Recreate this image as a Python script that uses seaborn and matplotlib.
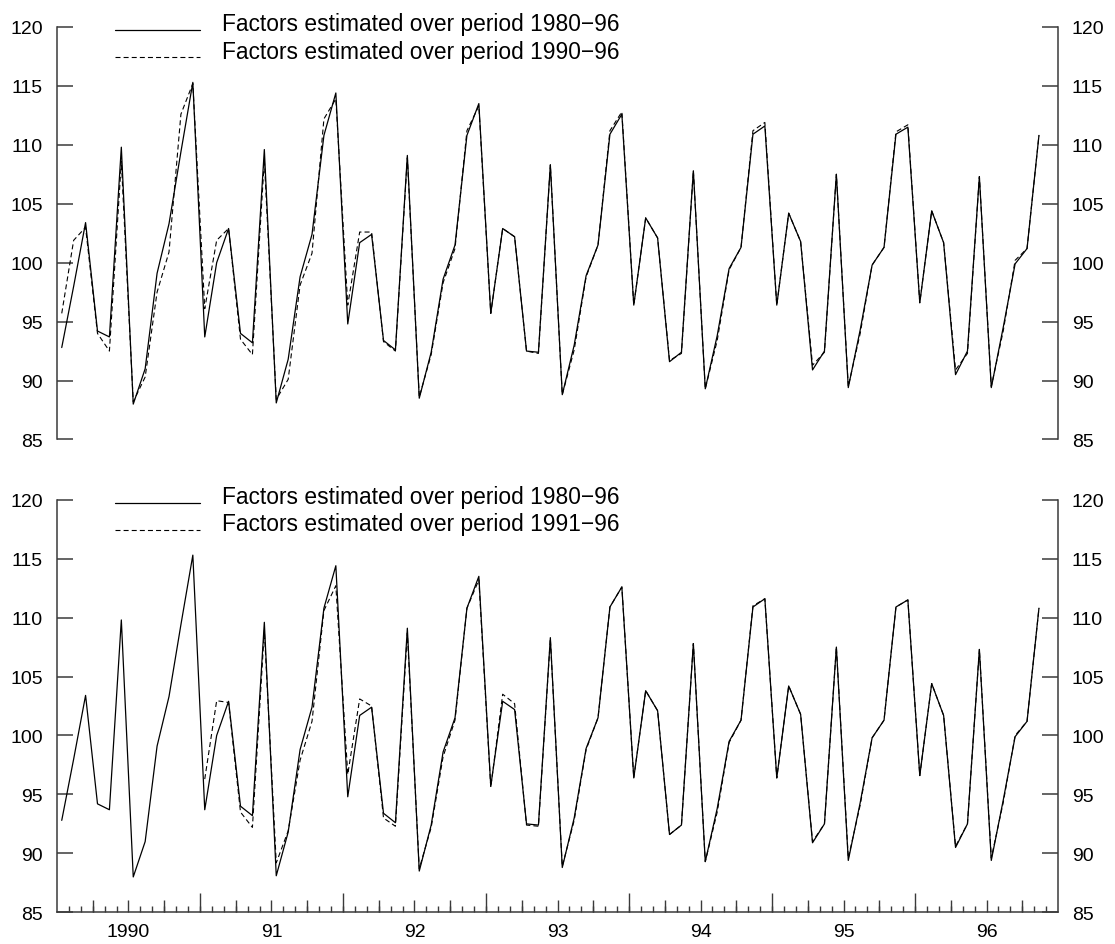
import numpy as np
import pandas as pd
import matplotlib
matplotlib.use("Agg")
import matplotlib.pyplot as plt
import seaborn as sns
from matplotlib.lines import Line2D
from matplotlib.legend_handler import HandlerLine2D
from matplotlib.ticker import FixedLocator, FixedFormatter, NullFormatter

# ---------------- data (monthly seasonal factors, Jan 1990 .. Nov 1996) ----------------
year_labels = ["1990", "91", "92", "93", "94", "95", "96"]
y_ticks = [85, 90, 95, 100, 105, 110, 115, 120]

label_solid = "Factors estimated over period 1980\u221296"
label_top_dashed = "Factors estimated over period 1990\u221296"
label_bot_dashed = "Factors estimated over period 1991\u221296"

factors_1980_96 = [
    92.8, 98.0, 103.4, 94.2, 93.7, 109.8, 88.0, 91.0, 99.1, 103.3, 109.4, 115.3,
    93.7, 100.0, 102.9, 94.0, 93.2, 109.6, 88.1, 91.8, 98.8, 102.4, 110.8, 114.4,
    94.8, 101.7, 102.4, 93.4, 92.6, 109.1, 88.5, 92.4, 98.6, 101.5, 110.8, 113.5,
    95.7, 102.9, 102.2, 92.5, 92.4, 108.3, 88.8, 93.0, 98.9, 101.5, 110.9, 112.6,
    96.4, 103.8, 102.1, 91.6, 92.4, 107.8, 89.3, 93.8, 99.5, 101.3, 110.9, 111.6,
    96.4, 104.2, 101.8, 90.9, 92.5, 107.5, 89.4, 94.3, 99.8, 101.3, 110.9, 111.5,
    96.6, 104.4, 101.7, 90.5, 92.5, 107.3, 89.4, 94.5, 99.9, 101.2, 110.8,
]

factors_1990_96 = [
    95.7, 101.9, 103.0, 94.0, 92.5, 108.6, 88.2, 90.3, 97.5, 100.9, 112.6, 115.2,
    96.1, 101.9, 102.9, 93.5, 92.2, 108.7, 88.4, 90.1, 98.1, 100.8, 112.2, 113.9,
    96.4, 102.6, 102.6, 93.3, 92.5, 108.9, 88.6, 92.2, 98.3, 101.2, 111.2, 113.3,
    95.7, 102.9, 102.2, 92.5, 92.3, 108.3, 88.8, 92.6, 98.8, 101.5, 111.2, 112.8,
    96.4, 103.8, 102.1, 91.7, 92.3, 107.8, 89.3, 93.4, 99.4, 101.3, 111.2, 111.9,
    96.4, 104.2, 101.8, 91.3, 92.4, 107.5, 89.5, 94.0, 99.8, 101.3, 111.1, 111.7,
    96.6, 104.4, 101.7, 90.9, 92.3, 107.3, 89.5, 94.2, 100.2, 101.2, 110.8,
]

# starts Jan 1991
factors_1991_96 = [
    96.3, 102.95, 102.8, 93.5, 92.2, 108.9, 89.2, 91.9, 97.9, 101.2, 110.6, 112.7,
    96.7, 103.1, 102.5, 93.0, 92.3, 108.7, 88.7, 92.2, 98.2, 101.3, 110.8, 113.2,
    95.6, 103.5, 102.7, 92.4, 92.3, 108.2, 88.9, 92.8, 98.8, 101.5, 110.9, 112.6,
    96.4, 103.8, 102.1, 91.6, 92.4, 107.8, 89.3, 93.5, 99.4, 101.3, 111.0, 111.6,
    96.4, 104.2, 101.8, 91.0, 92.5, 107.5, 89.6, 94.1, 99.8, 101.3, 110.9, 111.5,
    96.6, 104.4, 101.7, 90.6, 92.5, 107.3, 89.6, 94.3, 100.0, 101.2, 110.8,
]

n_months = len(factors_1980_96)
month_pos = np.arange(n_months) + 0.4          # plotted near mid-month
start_1991 = 12
n_months_axis = 84                              # Jan 1990 .. Dec 1996

df_solid = pd.DataFrame({"t": month_pos, "v": factors_1980_96})
df_top = pd.DataFrame({"t": month_pos, "v": factors_1990_96})
df_bot = pd.DataFrame({"t": month_pos[start_1991:], "v": factors_1991_96})

# ---------------- style ----------------
sns.set_theme(style="white")
plt.rcParams["font.family"] = ["Liberation Sans", "DejaVu Sans"]
spine_col = "#3a3a3a"

fig = plt.figure(figsize=(11.15, 9.45), dpi=100)
ax_top = fig.add_axes([0.0511, 0.5339, 0.8978, 0.4365])
ax_bot = fig.add_axes([0.0511, 0.03354, 0.8978, 0.4366])

dash = (0, (4.5, 2.8))


class BaselineLineHandler(HandlerLine2D):
    """Legend line sample drawn near the text baseline."""

    def create_artists(self, legend, orig_handle, xdescent, ydescent, width,
                       height, fontsize, trans):
        arts = super().create_artists(legend, orig_handle, xdescent, ydescent,
                                      width, height, fontsize, trans)
        for a in arts:
            if isinstance(a, Line2D):
                a.set_ydata(np.asarray(a.get_ydata(), dtype=float) - 0.33 * fontsize)
        return arts


def draw(ax, df_dashed, dashed_label):
    sns.lineplot(data=df_solid, x="t", y="v", ax=ax, color="black", lw=0.9,
                 sort=False, estimator=None, errorbar=None)
    h1 = ax.lines[-1]
    sns.lineplot(data=df_dashed, x="t", y="v", ax=ax, color="black", lw=0.8,
                 linestyle=dash, sort=False, estimator=None, errorbar=None)
    h2 = ax.lines[-1]
    ax.set_xlim(0, n_months_axis)
    ax.set_ylim(85, 120)
    ax.set_xlabel("")
    ax.set_ylabel("")
    ax.set_yticks(y_ticks)
    ax.set_yticklabels([str(v) for v in y_ticks])
    ax.tick_params(axis="y", which="major", direction="in", length=11.3, width=1.1,
                   color=spine_col, left=True, right=True, labelleft=True,
                   labelright=True, labelsize=14, pad=10, labelcolor="black")
    for s in ["left", "right"]:
        ax.spines[s].set_color(spine_col)
        ax.spines[s].set_linewidth(1.1)
        ax.spines[s].set_visible(True)
    ax.spines["top"].set_visible(False)
    leg = ax.legend([h1, h2], [label_solid, dashed_label],
                    handler_map={Line2D: BaselineLineHandler()},
                    loc="upper left", bbox_to_anchor=(0.058, 1.0355),
                    frameon=False, borderpad=0, borderaxespad=0,
                    handlelength=3.75, handletextpad=0.93, labelspacing=0.19,
                    fontsize=16.4)
    for t in leg.get_texts():
        t.set_color("black")


draw(ax_top, df_top, label_top_dashed)
draw(ax_bot, df_bot, label_bot_dashed)

# top panel: no x axis, longer tick at 85
ax_top.spines["bottom"].set_visible(False)
ax_top.tick_params(axis="x", which="both", bottom=False, top=False,
                   labelbottom=False)
ax_top.yaxis.set_minor_locator(FixedLocator([85]))
ax_top.yaxis.set_minor_formatter(NullFormatter())
ax_top.tick_params(axis="y", which="minor", direction="in", length=20.9,
                   width=1.1, color=spine_col, left=True, right=True)

# bottom panel: monthly axis with year labels at mid-year
ax_bot.spines["bottom"].set_visible(True)
ax_bot.spines["bottom"].set_color(spine_col)
ax_bot.spines["bottom"].set_linewidth(1.1)
mid_years = [6 + 12 * k for k in range(len(year_labels))]
ax_bot.xaxis.set_major_locator(FixedLocator(mid_years))
ax_bot.xaxis.set_major_formatter(FixedFormatter(year_labels))
ax_bot.xaxis.set_minor_locator(FixedLocator(list(range(1, n_months_axis))))
ax_bot.tick_params(axis="x", which="major", direction="in", length=8.6, width=1.0,
                   color=spine_col, bottom=True, top=False, labelsize=14, pad=8,
                   labelcolor="black")
ax_bot.tick_params(axis="x", which="minor", direction="in", length=4.2, width=1.0,
                   color=spine_col, bottom=True, top=False)

ax_yr = ax_bot.twiny()
ax_yr.set_xlim(0, n_months_axis)
ax_yr.xaxis.set_ticks_position("bottom")
ax_yr.xaxis.set_major_locator(FixedLocator(list(range(12, n_months_axis, 12))))
ax_yr.xaxis.set_major_formatter(NullFormatter())
ax_yr.xaxis.set_minor_locator(FixedLocator(list(range(3, n_months_axis, 6))))
ax_yr.xaxis.set_minor_formatter(NullFormatter())
ax_yr.tick_params(axis="x", which="major", direction="in", length=13.7, width=1.0,
                  color=spine_col, bottom=True, top=False, labelbottom=False,
                  labeltop=False)
ax_yr.tick_params(axis="x", which="minor", direction="in", length=8.6, width=1.0,
                  color=spine_col, bottom=True, top=False)
for s in ax_yr.spines.values():
    s.set_visible(False)

fig.savefig("out.png", dpi=100)
